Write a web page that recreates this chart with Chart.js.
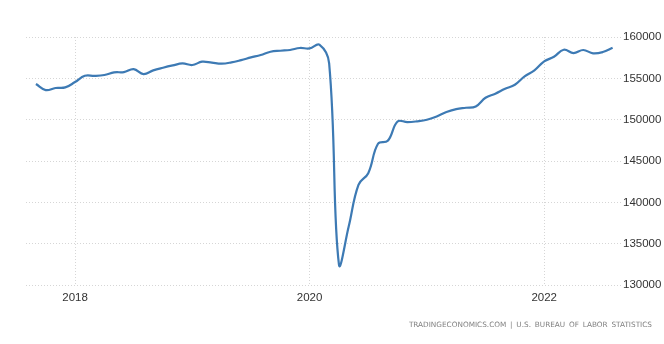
<!DOCTYPE html>
<html>
<head>
<meta charset="utf-8">
<script src="https://cdn.jsdelivr.net/npm/chart.js@4/dist/chart.umd.min.js"></script>
<style>
  html, body { margin: 0; padding: 0; background: #ffffff; }
  #wrap { position: relative; width: 664px; height: 344px; }
  #footer { position: absolute; right: 12px; top: 320px; font-family: "DejaVu Sans", "Liberation Sans", sans-serif; font-size: 7.3px; color: #808080; letter-spacing: 0px; word-spacing: 1.5px; white-space: nowrap; }
</style>
</head>
<body>
<div id="wrap">
  <canvas id="c" width="664" height="344"></canvas>
  <div id="footer">TRADINGECONOMICS.COM | U.S. BUREAU OF LABOR STATISTICS</div>
</div>
<script>
// Monthly employment level (thousands), Sep 2017 - Aug 2022
const startYear = 2017;
const startMonth = 9;
const employment = [
  154310, 153580, 153830, 153900,
  154550, 155310, 155300, 155400, 155720, 155760, 156120, 155520, 155960, 156280, 156560, 156800,
  156610, 157010, 156890, 156770, 156930, 157210, 157530, 157820, 158220, 158340, 158430, 158670,
  158620, 159070, 156800, 132500, 137070, 142120, 143530, 147080, 147440, 149780, 149700, 149800,
  149990, 150390, 150920, 151280, 151440, 151600, 152650, 153140, 153740, 154220, 155230, 155960,
  157050, 157610, 158460, 158060, 158430, 158020, 158180, 158700
];
const months = employment.map((_, i) => {
  const m0 = startMonth - 1 + i;
  return { year: startYear + Math.floor(m0 / 12), month: (m0 % 12) + 1 };
});
const xTicks = [2018, 2020, 2022];
const yTicks = [130000, 135000, 140000, 145000, 150000, 155000, 160000];

const points = months.map((d, i) => ({ x: d.year + (d.month - 1) / 12, y: employment[i] }));

new Chart(document.getElementById('c'), {
  type: 'line',
  data: {
    datasets: [{
      data: points,
      borderColor: '#3d7ab4',
      borderWidth: 2.2,
      pointRadius: 0,
      tension: 0.4,
      fill: false
    }]
  },
  options: {
    responsive: false,
    animation: false,
    layout: { padding: { left: 26, top: 37, right: 0, bottom: 0 } },
    plugins: { legend: { display: false }, tooltip: { enabled: false } },
    scales: {
      x: {
        type: 'linear',
        min: 2017.582,
        max: 2022.655,
        afterBuildTicks: s => { s.ticks = xTicks.map(v => ({ value: v })); },
        afterFit: s => { s.height = 59; },
        grid: { color: '#d6d6d6', lineWidth: 1, drawTicks: false },
        border: { display: false, dash: [1, 2] },
        ticks: {
          padding: 6,
          maxRotation: 0,
          color: '#333333',
          font: { family: 'Liberation Sans, Arial, sans-serif', size: 11.5 },
          callback: v => String(v)
        }
      },
      y: {
        position: 'right',
        min: 130000,
        max: 160000,
        afterBuildTicks: s => { s.ticks = yTicks.map(v => ({ value: v })); },
        afterFit: s => { s.width = 43; },
        grid: { color: '#d6d6d6', lineWidth: 1, drawTicks: false },
        border: { display: false, dash: [1, 2] },
        ticks: {
          padding: 2,
          color: '#333333',
          font: { family: 'Liberation Sans, Arial, sans-serif', size: 11.5 },
          callback: v => String(v)
        }
      }
    }
  }
});
</script>
</body>
</html>
